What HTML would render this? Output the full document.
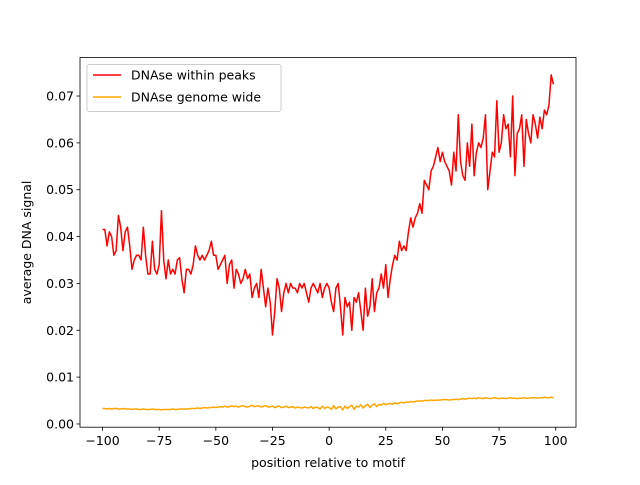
<!DOCTYPE html>
<html><head><meta charset="utf-8"><style>
body{margin:0;background:#fff;}
svg text{font-family:"DejaVu Sans","Liberation Sans",sans-serif;font-size:12.5px;fill:#000;}
</style></head><body>
<svg id="chart" width="640" height="480" xmlns="http://www.w3.org/2000/svg">
<rect width="640" height="480" fill="#fff"/>
<g id="plot"></g>
</svg>
<script>
const positions = [];
for (let i = -100; i < 100; i++) positions.push(i);
const peaks = [
.0415,.0415,.038,.041,.040,.036,.037,.0445,.042,.037,
.041,.042,.038,.033,.035,.036,.036,.035,.042,.036,
.032,.032,.039,.033,.032,.034,.0455,.035,.031,.035,
.032,.033,.032,.035,.0355,.031,.028,.033,.033,.032,
.034,.038,.036,.035,.036,.035,.036,.037,.039,.036,
.036,.033,.034,.035,.036,.030,.034,.035,.029,.033,
.032,.030,.031,.033,.031,.032,.027,.029,.030,.027,
.033,.029,.025,.029,.026,.019,.024,.031,.029,.024,
.028,.030,.028,.030,.029,.029,.028,.030,.029,.030,
.028,.026,.029,.030,.029,.028,.030,.027,.029,.030,
.029,.026,.024,.029,.030,.025,.019,.027,.025,.026,
.020,.027,.026,.028,.024,.020,.029,.023,.025,.031,
.024,.028,.029,.032,.029,.034,.027,.031,.034,.036,
.035,.039,.037,.038,.037,.041,.044,.042,.044,.045,
.047,.045,.052,.051,.050,.054,.055,.057,.059,.056,
.058,.056,.055,.054,.051,.058,.054,.066,.056,.053,
.052,.060,.055,.064,.053,.058,.060,.059,.061,.066,
.050,.054,.058,.057,.069,.058,.060,.066,.063,.064,
.057,.070,.053,.062,.063,.066,.055,.065,.062,.060,
.066,.064,.061,.0655,.063,.067,.066,.068,.0745,.0725];
const genome = [
.0033,.0033,.0032,.0033,.0032,.0033,.0033,.0032,.0032,.0033,
.0032,.0032,.0032,.0031,.0032,.0032,.0031,.0031,.0032,.0031,
.0031,.0031,.0032,.0031,.0031,.0031,.0030,.0031,.0031,.0031,
.0031,.0032,.0031,.0031,.0032,.0032,.0032,.0032,.0032,.0033,
.0033,.0033,.0034,.0033,.0034,.0035,.0034,.0035,.0035,.0036,
.0035,.0036,.0037,.0036,.0038,.0036,.0037,.0039,.0037,.0038,
.0036,.0038,.0039,.0037,.0036,.0038,.0040,.0037,.0038,.0039,
.0036,.0038,.0039,.0036,.0037,.0038,.0035,.0037,.0038,.0035,
.0036,.0038,.0035,.0036,.0037,.0034,.0036,.0035,.0034,.0036,
.0035,.0034,.0037,.0033,.0036,.0035,.0032,.0038,.0033,.0036,
.0035,.0031,.0039,.0032,.0036,.0037,.0030,.0038,.0033,.0037,
.0040,.0031,.0038,.0036,.0041,.0034,.0039,.0042,.0035,.0040,
.0043,.0037,.0042,.0040,.0044,.0041,.0043,.0044,.0042,.0045,
.0043,.0045,.0046,.0045,.0047,.0046,.0048,.0047,.0048,.0049,
.0049,.0049,.0050,.0050,.0050,.0051,.0050,.0051,.0051,.0051,
.0052,.0052,.0052,.0051,.0052,.0052,.0053,.0052,.0053,.0054,
.0053,.0054,.0055,.0054,.0055,.0054,.0056,.0055,.0054,.0056,
.0055,.0054,.0055,.0056,.0055,.0054,.0055,.0055,.0054,.0055,
.0056,.0055,.0055,.0054,.0055,.0055,.0056,.0055,.0055,.0056,
.0056,.0056,.0055,.0056,.0056,.0057,.0056,.0056,.0057,.0056];
const xTicks = [-100,-75,-50,-25,0,25,50,75,100];
const yTicks = [0,0.01,0.02,0.03,0.04,0.05,0.06,0.07];

const L=80,R=576,T=57.6,B=427.2;
const xMin=-109.95,xMax=108.95,yMin=-0.00069,yMax=0.0782;
const sx=v=>L+(v-xMin)/(xMax-xMin)*(R-L);
const sy=v=>B-(v-yMin)/(yMax-yMin)*(B-T);
const NS="http://www.w3.org/2000/svg";
const g=document.getElementById('plot');
function mk(tag,attrs,parent){const e=document.createElementNS(NS,tag);for(const k in attrs)e.setAttribute(k,attrs[k]);(parent||g).appendChild(e);return e;}

function line(vals,color,name){
  const d=vals.map((v,i)=>(i?'L':'M')+sx(positions[i]).toFixed(2)+','+sy(v).toFixed(2)).join('');
  const p=mk('path',{d:d,fill:'none',stroke:color,'stroke-width':1.5,'stroke-linejoin':'round'});
  
  
}
line(peaks,'#ff0000','series-dnase-within-peaks');
line(genome,'#ffa500','series-dnase-genome-wide');

const frame=mk('rect',{x:L,y:T,width:R-L,height:B-T,fill:'none',stroke:'#000','stroke-width':0.8});



xTicks.forEach(t=>{
  const x=sx(t);
  mk('line',{x1:x,x2:x,y1:B,y2:B+3.5,stroke:'#000','stroke-width':0.8});
  const tx=mk('text',{x:x,y:B+18,'text-anchor':'middle'});
  tx.textContent=String(t).replace('-','\u2212');
  
  
});
yTicks.forEach(t=>{
  const y=sy(t);
  mk('line',{x1:L-3.5,x2:L,y1:y,y2:y,stroke:'#000','stroke-width':0.8});
  const tx=mk('text',{x:L-6,y:y+4.5,'text-anchor':'end'});
  tx.textContent=t.toFixed(2);
  
  
});
const xt=mk('text',{x:(L+R)/2,y:467,'text-anchor':'middle'});
xt.textContent='position relative to motif';


const yt=mk('text',{x:0,y:0,'text-anchor':'middle',transform:'translate(31,'+((T+B)/2)+') rotate(-90)'});
yt.textContent='average DNA signal';



const lg=mk('g',{});


mk('rect',{x:87,y:64.5,width:194,height:47,rx:2.5,fill:'#fff','fill-opacity':0.8,stroke:'#ccc','stroke-width':1},lg);
[['DNAse within peaks','#ff0000',75],['DNAse genome wide','#ffa500',97]].forEach(([lab,c,y])=>{
  const e=mk('g',{},lg);
  
  
  mk('line',{x1:93,x2:121,y1:y,y2:y,stroke:c,'stroke-width':1.5},e);
  const t=mk('text',{x:131,y:y+4.5},e);t.textContent=lab;
});
</script>
</body></html>
